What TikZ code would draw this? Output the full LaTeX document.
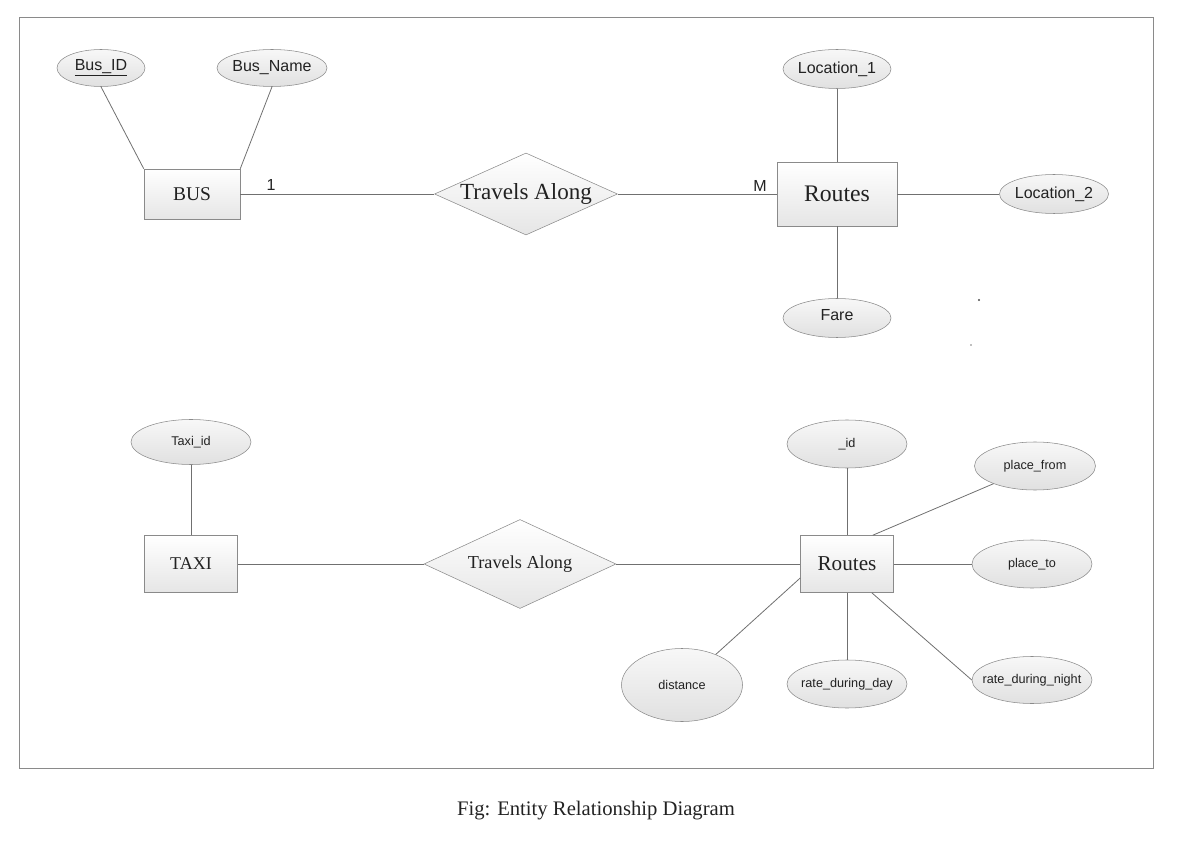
\documentclass[tikz,border=0pt]{standalone}
\usepackage{fontspec}
\setmainfont{Liberation Serif}
\newfontfamily\attrfont{Liberation Sans}
\usetikzlibrary{shapes.geometric}
\definecolor{edgegray}{HTML}{8A8A8A}
\definecolor{linegray}{HTML}{707070}
\definecolor{txt}{HTML}{222222}
\newlength{\pxu}
\setlength{\pxu}{0.75pt}
\newcommand{\zbox}[1]{\makebox[0pt]{#1}}
\tikzset{
  entity/.style={rectangle, draw=edgegray, top color=white, bottom color=black!10,
    inner sep=0pt, text=txt},
  attr/.style={ellipse, draw=edgegray, top color=black!3, bottom color=black!12,
    inner sep=0pt, text=txt, font=\attrfont\fontsize{12pt}{14pt}\selectfont},
  sattr/.style={attr, font=\attrfont\fontsize{9.5pt}{11pt}\selectfont},
  rel/.style={diamond, draw=edgegray, top color=white, bottom color=black!10,
    inner sep=0pt, text=txt},
  conn/.style={draw=linegray, line width=0.6pt},
  card/.style={font=\attrfont\fontsize{12pt}{14pt}\selectfont, text=txt, inner sep=0pt}
}
\begin{document}
\begin{tikzpicture}[x=0.75pt, y=-0.75pt]
\useasboundingbox (0,0) rectangle (1189,841);
\draw[edgegray, line width=0.6pt] (19,17) rectangle (1153,768);

% ---- Top diagram ----
\node[attr, minimum width=88\pxu, minimum height=37\pxu] (busid) at (101,68) {\zbox{\raisebox{-1.5pt}{\underline{Bus\_ID}}}};
\node[attr, minimum width=110\pxu, minimum height=37\pxu] (busname) at (272,68) {\zbox{Bus\_Name}};
\node[entity, minimum width=96\pxu, minimum height=50\pxu, font=\fontsize{14.6pt}{16pt}\selectfont] (bus) at (192,194) {BUS};
\node[rel, aspect=2.23, minimum width=183\pxu, minimum height=82\pxu, font=\fontsize{17.3pt}{19pt}\selectfont] (rel1) at (526,194) {Travels Along};
\node[entity, minimum width=120\pxu, minimum height=64\pxu, font=\fontsize{17.8pt}{19pt}\selectfont] (rte1) at (837,194) {Routes};
\node[attr, minimum width=108\pxu, minimum height=39\pxu] (loc1) at (837,69) {\zbox{Location\_1}};
\node[attr, minimum width=109\pxu, minimum height=39\pxu] (loc2) at (1054,194) {\zbox{Location\_2}};
\node[attr, minimum width=108\pxu, minimum height=39\pxu] (fare) at (837,318) {\zbox{\raisebox{4pt}{Fare}}};
\node[card] (one) at (271,185) {1};
\node[card] (many) at (760,186) {M};

\draw[conn] (busid.south) -- (bus.north west);
\draw[conn] (busname.south) -- (bus.north east);
\draw[conn] (bus.east) -- (rel1.west);
\draw[conn] (rel1.east) -- (rte1.west);
\draw[conn] (loc1.south) -- (rte1.north);
\draw[conn] (rte1.east) -- (loc2.west);
\draw[conn] (rte1.south) -- (fare.north);

\fill[black!70] (979,300) circle (1.1);
\fill[black!50] (971,345) circle (0.9);

% ---- Bottom diagram ----
\node[sattr, minimum width=120\pxu, minimum height=45\pxu] (taxiid) at (191,442) {\zbox{Taxi\_id}};
\node[entity, minimum width=93\pxu, minimum height=57\pxu, font=\fontsize{13.5pt}{15pt}\selectfont] (taxi) at (191,564) {TAXI};
\node[rel, aspect=2.16, minimum width=192\pxu, minimum height=89\pxu, font=\fontsize{13.7pt}{15pt}\selectfont] (rel2) at (520,564) {Travels Along};
\node[entity, minimum width=93\pxu, minimum height=57\pxu, font=\fontsize{15.9pt}{17pt}\selectfont] (rte2) at (847,564) {Routes};
\node[sattr, minimum width=120\pxu, minimum height=48\pxu] (rid) at (847,444) {\zbox{\_id}};
\node[sattr, minimum width=121\pxu, minimum height=48\pxu] (pfrom) at (1035,466) {\zbox{place\_from}};
\node[sattr, minimum width=120\pxu, minimum height=48\pxu] (pto) at (1032,564) {\zbox{place\_to}};
\node[sattr, minimum width=120\pxu, minimum height=47\pxu] (rnight) at (1032,680) {\zbox{rate\_during\_night}};
\node[sattr, minimum width=120\pxu, minimum height=48\pxu] (rday) at (847,684) {\zbox{rate\_during\_day}};
\node[sattr, minimum width=121\pxu, minimum height=73\pxu] (dist) at (682,685) {\zbox{distance}};

\draw[conn] (taxiid.south) -- (taxi.north);
\draw[conn] (taxi.east) -- (rel2.west);
\draw[conn] (rel2.east) -- (rte2.west);
\draw[conn] (rid.south) -- (rte2.north);
\draw[conn] ([xshift=-21\pxu]rte2.north east) -- (pfrom);
\draw[conn] (rte2.east) -- (pto.west);
\draw[conn] ([xshift=-22\pxu]rte2.south east) -- (rnight.west);
\draw[conn] (rte2.south) -- (rday.north);
\draw[conn] ([yshift=-14\pxu]rte2.west) -- (dist);

% ---- Caption ----
\node[font=\fontsize{15.5pt}{18pt}\selectfont, text=txt] (caption) at (596,811) {Fig: Entity Relationship Diagram};
\end{tikzpicture}
\end{document}
